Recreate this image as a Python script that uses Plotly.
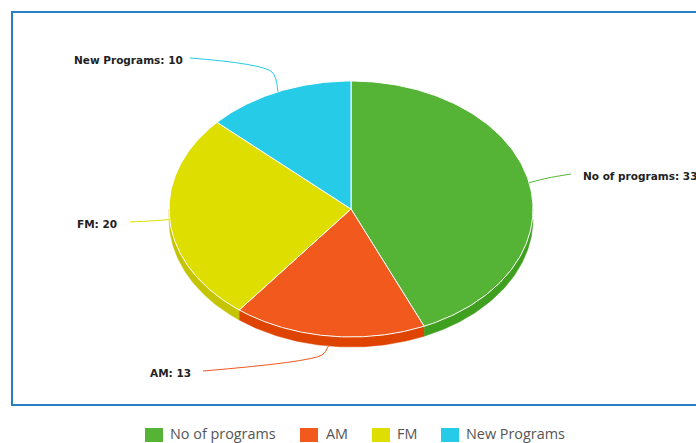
import numpy as np
import plotly.graph_objects as go

categories = ["No of programs", "AM", "FM", "New Programs"]
values = [33, 13, 20, 10]
label_names = ["No of programs", "AM", "FM", "New Programs"]
top_colors = ["#55B435", "#F2591D", "#DEDE00", "#25CBE7"]
side_colors = ["#3F9F1E", "#DE4300", "#C4C400", "#0FB0CC"]

W, H = 696, 443
CX, CY, RX, RY, DEPTH = 351, 209, 182, 128, 10

def edge(frac, dy=0.0):
    a = 2 * np.pi * np.asarray(frac)
    return CX + RX * np.sin(a), CY - RY * np.cos(a) + dy

fig = go.Figure()
total = sum(values)
fracs = np.cumsum([0] + values) / total

# extruded side of the pie (only the front half is visible)
for i, c in enumerate(side_colors):
    lo, hi = max(fracs[i], 0.25), min(fracs[i + 1], 0.75)
    if hi <= lo:
        continue
    t = np.linspace(lo, hi, 80)
    x1, y1 = edge(t)
    x2, y2 = edge(t[::-1], DEPTH)
    fig.add_trace(go.Scatter(x=np.r_[x1, x2], y=np.r_[y1, y2], mode="lines", fill="toself",
                             fillcolor=c, line=dict(color=c, width=0.5),
                             hoverinfo="skip", showlegend=False))

# top face
for i, c in enumerate(top_colors):
    t = np.linspace(fracs[i], fracs[i + 1], 160)
    x, y = edge(t)
    fig.add_trace(go.Scatter(x=np.r_[CX, x, CX], y=np.r_[CY, y, CY], mode="lines", fill="toself",
                             fillcolor=c, line=dict(color="#FFFFFF", width=1),
                             name=categories[i], hoverinfo="name", showlegend=False))

# connectors: label end, elbow, slice mid-point
label_ends = [(571, 174), (203, 371), (130, 222), (190, 58)]
elbows = [(548, 178), (322, 355), (150, 221), (272, 72)]
mids = (fracs[:-1] + fracs[1:]) / 2
for i, c in enumerate(top_colors):
    ex, ey = edge(mids[i], DEPTH if i == 1 else 0)
    fig.add_trace(go.Scatter(x=[label_ends[i][0], elbows[i][0], ex], y=[label_ends[i][1], elbows[i][1], ey],
                             mode="lines", line=dict(color=c, width=1, shape="spline", smoothing=0.8),
                             hoverinfo="skip", showlegend=False))

label_pos = [(581, 176, "left"), (193, 373, "right"), (119, 224, "right"), (185, 60, "right")]
annotations = []
for i, (x, y, anc) in enumerate(label_pos):
    annotations.append(dict(x=x, y=y, xref="x", yref="y", xanchor=anc, yanchor="middle", showarrow=False,
                            text=f"<b>{label_names[i]}: {values[i]}</b>",
                            font=dict(family="DejaVu Sans", size=10.5, color="#222222")))

# frame and legend
shapes = [dict(type="rect", xref="x", yref="y", x0=12, y0=12, x1=720, y1=405,
               line=dict(color="#2A7EC4", width=2), layer="below")]
swatch_x = [145, 300, 372, 441]
text_x = [168, 324, 395, 464]
for i, c in enumerate(top_colors):
    shapes.append(dict(type="rect", xref="x", yref="y", x0=swatch_x[i], x1=swatch_x[i] + 18, y0=428, y1=442,
                       fillcolor=c, line=dict(width=0)))
    annotations.append(dict(x=text_x[i], y=433.5, xref="x", yref="y", xanchor="left", yanchor="middle",
                            showarrow=False, text=categories[i],
                            font=dict(family="Open Sans", size=14.4, color="#555555")))

fig.update_layout(
    width=W, height=H, margin=dict(l=0, r=0, t=0, b=0), autosize=False,
    paper_bgcolor="white", plot_bgcolor="white", showlegend=False,
    xaxis=dict(range=[0, W], visible=False, fixedrange=True),
    yaxis=dict(range=[H, 0], visible=False, fixedrange=True),
    shapes=shapes, annotations=annotations,
)
fig.write_html("out.html", config=dict(displayModeBar=False),
               post_script="document.body.style.margin='0';document.body.style.overflow='hidden';")
